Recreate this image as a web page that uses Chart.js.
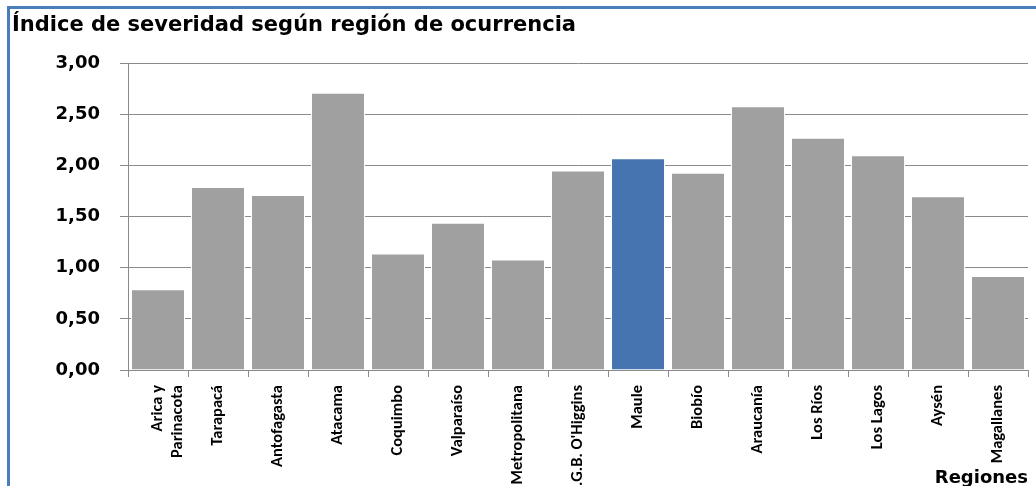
<!DOCTYPE html>
<html>
<head>
<meta charset="utf-8">
<script src="https://cdn.jsdelivr.net/npm/chart.js@4/dist/chart.umd.min.js"></script>
<style>
  html, body { margin: 0; padding: 0; background: #fff; overflow: hidden; }
  #frame { position: absolute; left: 7px; top: 6px; width: 1100px; height: 600px;
           border-left: 3px solid #4a7ebb; border-top: 3px solid #4a7ebb; }
  #wrap { position: absolute; left: 0; top: 0; width: 1036px; height: 486px; }
</style>
</head>
<body>
<div id="frame"></div>
<div id="wrap"><canvas id="myChart"></canvas></div>
<script>
const ctx = document.getElementById('myChart').getContext("2d");

const regiones = [
  ["Arica y", "Parinacota"],
  "Tarapacá",
  "Antofagasta",
  "Atacama",
  "Coquimbo",
  "Valparaíso",
  "Metropolitana",
  "L.G.B. O'Higgins",
  "Maule",
  "Biobío",
  "Araucanía",
  "Los Ríos",
  "Los Lagos",
  "Aysén",
  "Magallanes",
];

const indice = [0.79, 1.79, 1.71, 2.71, 1.14, 1.44, 1.08, 1.95, 2.07, 1.93, 2.58, 2.27, 2.10, 1.70, 0.92];

// Maule resaltada en azul
const colores = regiones.map(r => r === "Maule" ? "#4574b1" : "#a0a0a0");

const gris = "#8a8a8a";
const wideFont = "'DejaVu Sans', sans-serif";
const labelFont = "Carlito, 'DejaVu Sans Condensed', sans-serif";

const data = {
  labels: regiones,
  datasets: [
    {
      data: indice,
      backgroundColor: colores,
      borderColor: "#ffffff",
      borderWidth: 1,
      barPercentage: 0.9,
      categoryPercentage: 1,
    },
  ],
};

const config = {
  type: 'bar',
  data: data,
  options: {
    responsive: true,
    maintainAspectRatio: false,
    animation: false,
    layout: { padding: { left: 12, right: 8, top: 6, bottom: 0 } },
    plugins: {
      legend: { display: false },
      tooltip: { enabled: false },
      title: {
        display: true,
        text: "Índice de severidad según región de ocurrencia",
        align: 'start',
        color: "#000",
        font: { family: wideFont, weight: 'bold', size: 21 },
        padding: { top: 7, bottom: 25 },
      },
    },
    scales: {
      x: {
        offset: true,
        grid: { drawOnChartArea: false, drawTicks: true, tickLength: 7, color: gris, offset: true },
        border: { color: gris },
        ticks: {
          autoSkip: false,
          maxRotation: 90,
          minRotation: 90,
          padding: 8,
          color: "#000",
          font: { family: labelFont, size: 16.5, weight: 'bold' },
        },
        title: {
          display: true,
          text: "Regiones",
          align: 'end',
          color: "#000",
          font: { family: wideFont, weight: 'bold', size: 18 },
          padding: { top: 0, bottom: -3 },
        },
        afterFit: (scale) => { scale.height = 116; },
      },
      y: {
        min: 0,
        max: 3,
        grid: { color: gris, tickLength: 8 },
        border: { color: gris },
        ticks: {
          stepSize: 0.5,
          padding: 20,
          color: "#000",
          font: { family: wideFont, weight: 'bold', size: 18 },
          callback: function (value) {
            return value.toFixed(2).replace('.', ',');
          },
        },
        afterFit: (scale) => { scale.width = 116; },
      },
    },
  },
};

const myChart = new Chart(ctx, config);
</script>
</body>
</html>
